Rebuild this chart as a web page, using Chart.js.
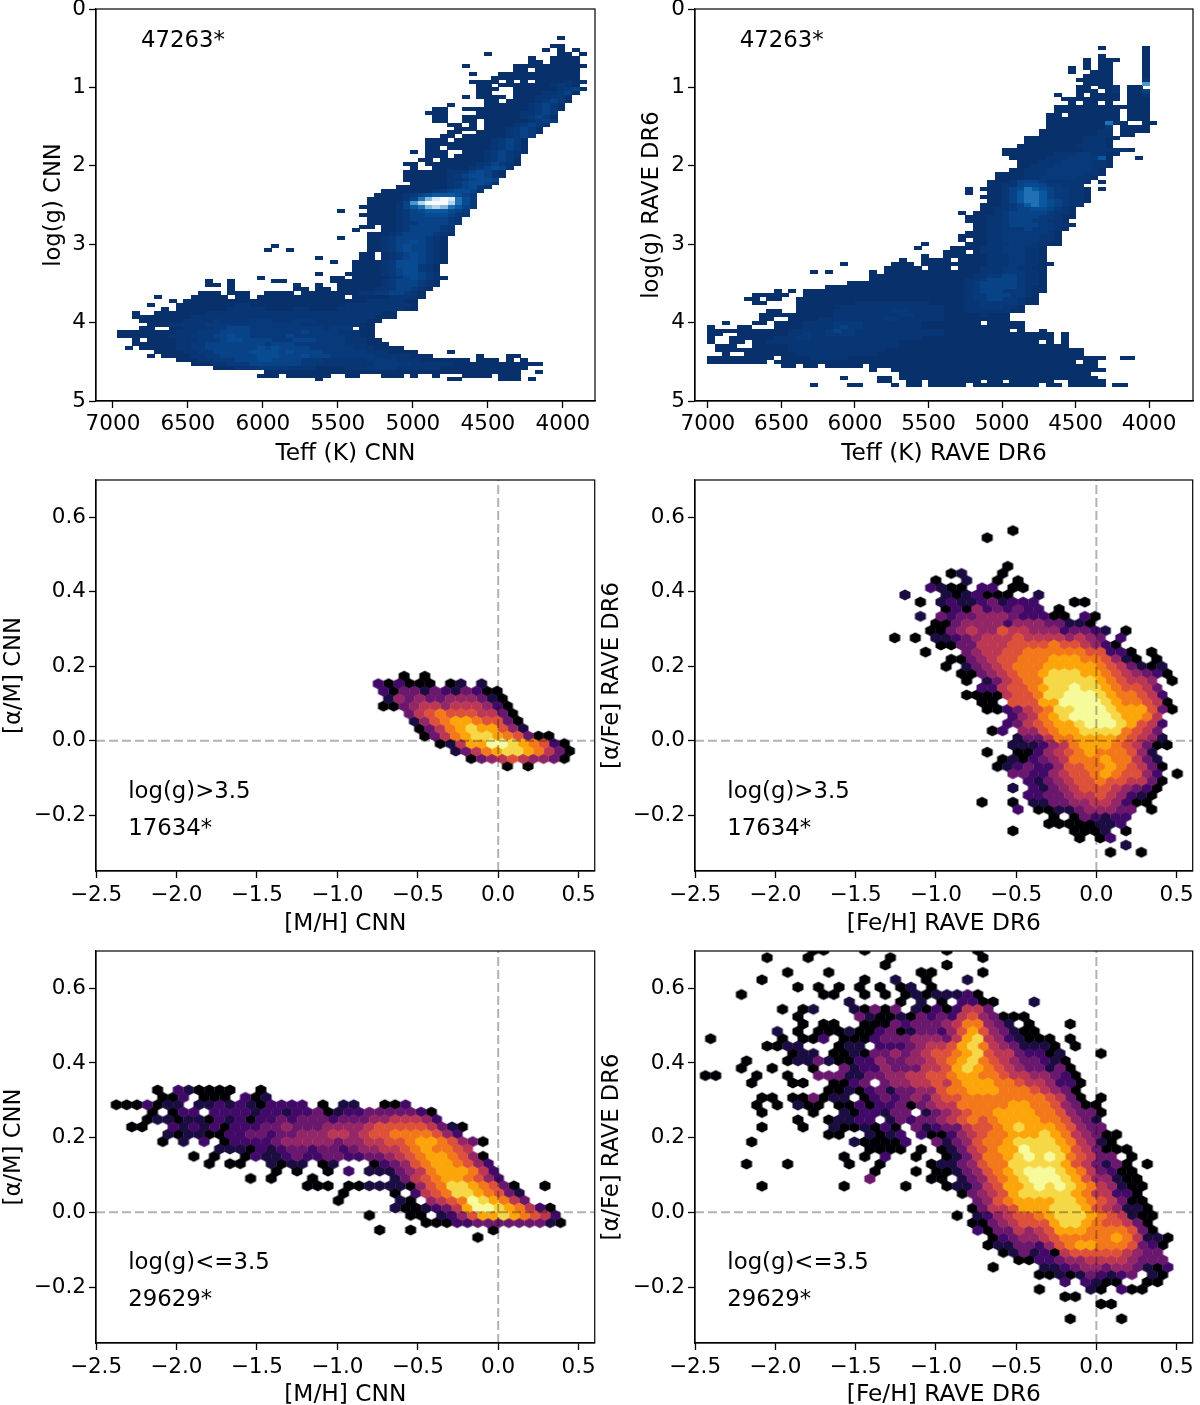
<!DOCTYPE html>
<html><head><meta charset="utf-8">
<style>html,body{margin:0;padding:0;background:#fff;overflow:hidden}canvas{position:absolute;display:block}</style>
<script src="https://cdn.jsdelivr.net/npm/chart.js@4"></script>
</head><body>
<canvas id="c0" style="left:0;top:0" width="602" height="470"></canvas>
<canvas id="c1" style="left:600px;top:0" width="600" height="470"></canvas>
<canvas id="c2" style="left:0;top:470px" width="608" height="470"></canvas>
<canvas id="c3" style="left:600px;top:470px" width="606" height="470"></canvas>
<canvas id="c4" style="left:0;top:940px" width="608" height="465"></canvas>
<canvas id="c5" style="left:600px;top:940px" width="606" height="465"></canvas>
<script>
const teffTicks=[7000,6500,6000,5500,5000,4500,4000];
const loggTicks=[0,1,2,3,4,5];
const metalTicks=[-2.5,-2,-1.5,-1,-0.5,0,0.5];
const metalLabels=["\u22122.5","\u22122.0","\u22121.5","\u22121.0","\u22120.5","0.0","0.5"];
const alphaTicks=[-0.2,0,0.2,0.4,0.6];
const alphaLabels=["\u22120.2","0.0","0.2","0.4","0.6"];
const blues=["#08306b","#083573","#083a7b","#084387","#084b93","#0a58a2","#2070b4","#4a98c9","#82badb","#b5d4e9","#dbe9f6","#f7fbff"];
const inferno=["#000004","#1b0c41","#420a68","#6a176e","#932667","#bc3754","#dd513a","#f37819","#fca50a","#f6d746","#f6fa9a"];

// [logg row, first Teff bin, density codes per bin; blank = no stars]
const cnnGiantRows=[
[0,60,"0"],[2,59,"00"],[3,58,"0 0 0"],[4,50,"0         00 0"],[5,56,"0  0000"],[6,56,"00 0000"],[7,47,"0      0000000000"],[8,54,"00 000000"],[9,48,"0   00000000000"],[10,51,"000000000000"],
[11,48,"0000 0 0 0000101"],[12,49,"00 00000001210"],[13,49,"000  0000001230"],[14,49,"00   000011230"],[15,47,"0 0000 00011220"],[16,50,"00 000012320"],[17,45,"0    00000012320"],[18,43,"00  00000000012320"],[19,42,"000    00000011232"],[20,43,"00  0000000012320"],
[21,43,"00  00 0000001232"],[22,45,"00 0 000012321"],[23,46,"000 00012320"],[24,45,"00  000012320"],[25,44,"00 0000001232"],[26,42,"000 0000012320"],[27,42,"00000000012320"],[28,42,"00 00000012320"],[29,40,"0 000  000123210"],[30,42,"000 000012321"],
[31,41,"00 00000012320"],[32,39,"00 0000000123210"],[33,40,"0  00000123431"],[34,39,"00000011234310"],[35,39,"00000012344310"],[36,39,"0000001123443"],[37,40,"000001234431"],[38,38,"0000000123421"],[39,36,"00000001234431"],[40,35,"00001234555432"],
[41,34,"000001368aba642"],[42,34,"00001379bbb9642"],[43,33,"0000013568986532"],[44,34,"00001234555432"],[44,30,"0"],[45,33,"000001233444321"],[46,34,"0000123333321"],[47,34,"0000122333321"],[48,33,"00 0012333321"],[49,32,"0   0012333321"],
[50,34,"000123333210"],[51,34,"00123333210"],[51,30,"0"],[52,34,"00123343210"],[53,34,"00123433210"],[53,21,"0"],[54,34,"00123433210"],[54,20,"0  0"],[55,33,"00 012343210"],[56,33,"00 012343210"],[56,27,"0"],[57,32,"0000124443210"],[57,29,"0"],[58,32,"000012444210"],[59,32,"000012344210"],
[60,27,"0   0000012344321"],[61,19,"0         00 0000012343210"],[62,12,"0  0     00"],[62,29,"000000012333210"],[63,12,"00 0"],[63,24,"0  0"],[63,30,"00000012333210"],[64,15,"0"],[64,24,"00 00"],[64,30,"0000011233210"],[65,11,"000 000  0000"],[65,25,"00000000112233210"],
[66,5,"0"],[66,10,"00000 00 000000000000 0000011110"],[67,7,"0"],[67,9,"00000000000000000000000001111100"],[68,4,"0"],[68,8,"000000001100000000000001111111110"],[69,6,"0"],[69,8,"000000011111000011000011111111100"],
[70,2,"0"],[70,5,"000000011111111111111111111111100"],[71,2,"000"],[71,5,"000001111111111111111111111111000"],[72,3,"000000111121111222111222111111100"],[73,4,"0001111122222222222221111111100"],[74,3,"00  0011112233322222222221222 00"],
[75,0,"00000000111222333322222223222211100"],[76,0,"00000001112223343322222322222221100"],[77,2,"0 00001112223443333222333222211100"],[78,2,"00000011223333333323332222222111000"],[79,1,"0 00"],[79,5,"0001122333333343433332222221110000"],
[80,5,"000011223333344443433332222221110000"],[80,45,"0"],[81,4,"0"],[81,6,"0000112233333444333433322222211111000"],[81,49,"0"],[81,53,"00"],[82,8,"0001122233344333322211111122221110000000"],[82,49,"000 0 0"],
[83,10,"000112223333333221111111122222111111000000000000"],[84,13,"0001112222111100001112222111111000000000000"],[85,20,"00000000000000000000000000000000000"],[85,57,"0"],[86,19,"000 000000  00   000 0  0   0000 000"],[87,27,"0"],[87,45,"00     000 0"]
];
const raveGiantRows=[
[0,53,"0     0"],[1,59,"0"],[2,53,"0     0"],[3,51,"0 000   0"],[4,51,"0 00    0"],[5,49,"0 0 00    0"],[6,49,"0  000    0"],[7,51,"0000    0"],[8,50,"00000    1"],[9,51,"0000    7"],
[10,50,"00 001 00"],[11,50,"000 01 003"],[12,47,"0  0 0000 001"],[13,48,"00000000 000"],[14,49,"0 00 0  000"],[15,47,"0000000000000"],[16,47,"000000000 000"],[17,46,"00 0000000 000"],[18,46,"0000000000 000"],[19,46,"00000000600  00"],
[20,46,"000000002 0000"],[21,45,"0000000011 0000"],[22,45,"0000000011 00"],[23,43,"0000000011100"],[24,43,"000000001110"],[25,42,"0000000011110"],[26,40,"000000000001111110"],[27,40,"0000000111221100"],[28,41,"00000111222250   0"],[29,42,"0001112222110"],
[30,42,"0011122222110"],[31,41,"0011122222210"],[32,39,"000011122222110"],[33,39,"00001122222110"],[34,38,"00013332111110 0"],[35,38,"0011344322111"],[36,35,"0 000134654322110 0"],[37,35,"0  00135665322110"],[38,37,"000135665322110"],[39,38,"00135665432110"],
[40,37,"00012356543211"],[41,37,"0011233443210"],[42,34,"0 00012333332110"],[43,35,"000112333322100"],[44,35,"00011233322110"],[45,36,"00112333322110"],[46,36,"0011222322210"],[47,35,"0001122222210"],[48,34,"00001122222110"],[49,34,"0 001122222110"],
[50,35,"0001112221100"],[50,29,"0"],[51,33,"0000111222110"],[51,28,"0"],[52,32,"000 0111222110"],[53,32,"00000011122110"],[53,29,"0"],[54,32,"0 000011122110"],[54,26,"0  000"],[55,32,"000000111221100"],[55,18,"0      000 000"],
[56,32,"0 000111221100"],[56,24,"00000 000"],[57,14,"0 0     0 00000000"],[57,32,"00000111222110"],[58,22,"0000000000"],[58,32,"00001122332110"],[59,22,"0000000000"],[59,32,"00011233332110"],[60,19,"0000000000000"],[60,32,"00012333332110"],[61,16,"0000000000000000"],[61,32,"00012333332100"],
[62,9,"0 0 0000000000000000000"],[62,32,"00012333222100"],[63,6,"00000  0000000000000000000"],[63,32,"0001223332210"],[64,5,"00 00  00000000000000000000"],[64,32,"0001223322100"],[65,6,"00    00000000111111111100"],[65,32,"0001122222100"],
[66,12,"00000011111111111111"],[66,32,"00011222110"],[67,8,"00  00000111111112211111"],[67,32,"00011111100"],[68,7,"0000000000111111111221111"],[68,32,"000001000"],[69,7,"00  000011111111122111111"],[69,32,"000000000"],
[70,2,"0   00 00001111222211111111000"],[70,32,"00000 00000"],[71,0,"0   00   00001111232211111111000"],[71,32,"00000000000"],[72,0,"00000000000111112322111111111111"],[72,32,"000000000 0  0"],[73,0,"00  0000000112112222111111111111"],[73,32,"000000000000000 0"],
[74,0,"0  00000011122111111111111111000"],[74,32,"000000000000000 0"],[75,0,"0  00 00111111111111111111000000"],[75,32,"0000000000000 0 0"],[76,1,"000  00000111111111111111000000"],[76,32,"00000000000000000"],[77,1,"0000000000111111111111100000000"],[77,32,"0000000000000000000"],
[78,2,"0  000000011111111111000000000"],[78,32,"0000000000000000000"],[79,0,"000000000 0000111110000000000000"],[79,32,"0000000000000000000000  00"],[80,0,"00000000 00000000000000000000000"],[80,32,"000000000000000000 00"],[81,10,"00 00 00000 0000000000"],[81,32,"000000000000000000000"],
[82,22,"0  0000000"],[82,32,"0000000000000000000000"],[83,26,"000000"],[83,32,"00000000000000000000"],[84,18,"0    00 000000"],[84,32,"000000000000000000000"],[85,23,"00  00 00"],[85,32,"00000 00 000000  00000"],[86,14,"0    00    0 00 00"],[86,32,"000 000000000 00 00000 00"]
];
// [hexagon row, first hexagon column, density codes; blank = empty hexagon]
const dwarfCnnRows=[
[0,0,"   0 0"],[1,0,"202000 01 1"],[2,0," 203313213200"],[3,0," 143433444310"],[4,0," 0034554555420"],[5,0,"   35676665530"],[6,0,"    14678876630"],[7,0,"    03578988641"],[8,0,"     0357899876300"],[9,0,"      01588aa987620"],[10,0,"        135789987530"],[11,0,"         0345654430"],[12,0,"             0 0"]
];
const dwarfRaveRows=[
[0,12,"0"],[1,9,"0"],[5,11,"0"],[6,6,"01   0"],[7,4,"0  1  0 0"],[8,4,"2100 22 00"],[9,1,"1   1012000  1"],[10,3,"0 1211231222   00"],[11,5,"0204232322 0"],[12,3,"1 3233444322200 20"],
[13,4,"0034444244433110"],[14,4,"003454465544423321 0"],[15,0,"0 0 11234555655554543 2"],[16,5,"003355566667665420"],[17,3,"0   34556677777766220 0"],[18,6,"0034566777888776410 0"],[19,5,"0 13456777888887653101"],[20,7,"003456778999887654320"],[21,7,"0 13567799999876554 0"],[22,9,"225667899a99876653"],
[23,7,"0000566799aaa9877652"],[24,9,"00 66688aaaa9877650"],[25,9,"002356799aaa9888630"],[26,12,"245789aaaa98875"],[27,11,"23567889aaa98652"],[28,10,"02 44678899997653"],[29,12,"133577888876541"],[30,12,"1112457888765300"],[31,9,"0  00245678777641"],[32,11,"0102345777877531"],
[33,10,"01232246677876530"],[34,12,"332245667876642 0"],[35,13,"21345667665530"],[36,12,"1 2134566654320"],[37,13,"2233455654210"],[38,9,"0  0 113344554200"],[39,12,"2 0011344433 0"],[40,16,"0 032122"],[41,15,"00000112"],[42,12,"0     0001 0"],[43,18,"0 02"],[44,23,"1"],[45,21,"0  0"]
];
const giantCnnRows=[
[0,0,"     0 210000  0"],[1,0,"     002 000 201"],[2,0," 0002011 11212102222 0 11  002"],[3,0,"    0 022 2222122122301223333320"],[4,0,"    01101102120223233323334455542"],[5,0,"  00  21212022233433344445666665310"],
[6,0,"      10110022332334445545667777642"],[7,0,"     0 1 2 0222234444434455667887643"+"0"],[8,0,"           1110212332332344556787765"],[9,0,"        0 0  021123223322334567887640"],[10,0,"          0 00  1011 01   023467887642"],[11,0,"                0 0  0 2 1113457888752"],
[12,0,"              0 0   0       13567887642"],[13,0,"                   000 00111104679987630  0"],[14,0,"                       0    0 25679987631"],[15,0,"                      0     10 4567a98753"],[16,0,"                            10012358aa987520"],[17,0,"                         0   00 124688987652"],
[18,0,"                               00022333333310"],[19,0,"                          0  0       0"],[20,0,"                                    0"]
];
const giantRaveRows=[
[-1,10,"00   0       0  0"],[0,6,"0   0       0        0"],[1,17,"0     0"],[2,8,"0   0        00    0"],[3,5,"0         0  1  0   1"],[4,9,"0 0 0 0 0 01 0"],[5,3,"0"],[5,11,"00  0 0 01011120"],[6,14,"1    0 1 0 2200   1"],[7,7,"0 01   10303 10202553"],
[8,9,"0     31001032325643000"],[9,9,"0 00  000323334577431 0   0"],[10,7,"1 0 0001002301332468643100"],[11,0,"0"],[11,7,"0 002 000233344435895421000 0"],[12,6,"0011   011 222345568975431110 0"],[13,8,"011 00103343456678965532201   0"],[14,4,"0"],[14,8,"0113100224334456789765433210"],
[15,3,"0  0   0"],[15,13,"31224333556898765433130"],[16,0,"00   0  0  33311334455667887765544320"],[17,4,"0   00  0023 34455657888776554220"],[18,12,"0010231334467788877765430"],[19,5,"00 003011 0232343566777777776530 0"],[20,5,"0 0 100 00202230345577777887764300"],
[21,5,"0    0  1"],[21,14,"022133 134567788887764330"],[22,9,"0  01122 132334567678888776431"],[23,5,"0   0  1001020 3123356678988876433"],[24,12,"00  1012 20024567788898754300"],[25,4,"0"],[25,14,"100002  313467789999875410"],[26,16,"0000 0 01356788a9998653000"],[27,13,"0 0 2  0  01357789a9a976533 0"],
[28,4,"0   0"],[28,14,"0  0    01134677999998653130 0"],[29,16,"0   0 001346789aaa98753200"],[30,16,"3     00 1346789aaa98644100"],[31,5,"0       0     0   011356889a9a98754100"],[32,25,"034568999998755220"],[33,26,"34678888998765300"],[34,26,"035568889998654110"],[35,24,"0 124566789998765100"],
[36,26,"003456668998766530"],[37,26,"203354568887777630"],[38,28,"023445677777875110"],[39,27,"011332467887776320"],[40,29,"0131205666665433"],[41,30,"002234455554333"],[42,28,"0    1123443443102"],[43,32,"0010132123 10"],[44,35,"2 2100  00"],[45,32,"0    10 200"],[46,35,"00"],[47,38,"00"],[49,35,"0    0"]
];

function sprite(w,h,draw){const c=document.createElement('canvas');c.width=w;c.height=h;draw(c.getContext('2d'));return c;}
function hexSprite(color){const W=11,H=10.9;return sprite(14,14,g=>{g.fillStyle=color;g.beginPath();
  g.moveTo(7,7-H/2);g.lineTo(7+W/2,7-H/4);g.lineTo(7+W/2,7+H/4);g.lineTo(7,7+H/2);g.lineTo(7-W/2,7+H/4);g.lineTo(7-W/2,7-H/4);g.closePath();g.fill();});}
function cellSprite(color){return sprite(8,4,g=>{g.fillStyle=color;g.fillRect(0,0,8,4);});}
function frame(){return {id:'frame',afterDraw(ch){const a=ch.chartArea,g=ch.ctx;g.save();g.strokeStyle='#000';g.lineWidth=1.2;g.strokeRect(a.left,a.top,a.right-a.left,a.bottom-a.top);
  const n=ch.options.plugins.notes||[];g.fillStyle='#000';g.font='22.8px "DejaVu Sans"';g.textBaseline='middle';
  n.forEach(t=>g.fillText(t[0],a.left+t[1]*(a.right-a.left),a.top+t[2]*(a.bottom-a.top)));g.restore();}};}
function decode(rows,pos,palette){const out=palette.map(()=>[]);
  rows.forEach(r=>{[...r[2]].forEach((ch,i)=>{if(ch===' ')return;const lv=parseInt(ch,16);out[lv].push(pos(r[0],r[1]+i));});});return out;}

function axes(o){const tick={font:{family:'DejaVu Sans',size:21.5,lineHeight:0.5},color:'#000',maxRotation:0,autoSkip:false};
  const grid={drawOnChartArea:false,tickLength:7,tickWidth:1.3,tickColor:'#000'};const border={color:'#000',width:1.2};
  const ttl=(t,pad,s)=>({display:true,text:t,color:'#000',font:{family:'DejaVu Sans',size:s,lineHeight:1},padding:pad});
  return {x:{type:'linear',min:o.x[0],max:o.x[1],reverse:!!o.xrev,grid,border,title:ttl(o.xt,{top:0,bottom:o.xp},23.3),
      afterBuildTicks:s=>{s.ticks=o.xticks.map(v=>({value:v}));},ticks:{...tick,padding:o.xtp,callback:v=>o.xlab?o.xlab[o.xticks.indexOf(v)]:String(v)},afterFit:s=>{s.height=o.xh;}},
    y:{type:'linear',min:o.y[0],max:o.y[1],reverse:!!o.yrev,grid,border,title:ttl(o.yt,{top:o.yp,bottom:0},22.7),
      afterBuildTicks:s=>{s.ticks=o.yticks.map(v=>({value:v}));},ticks:{...tick,padding:3,callback:v=>o.ylab?o.ylab[o.yticks.indexOf(v)]:String(v)},afterFit:s=>{s.width=o.yw;}}};}

function panel(id,o,sets,notes){new Chart(document.getElementById(id),{type:'scatter',data:{datasets:sets},plugins:[frame()],
  options:{responsive:false,animation:false,events:[],layout:{padding:o.pad},scales:axes(o),plugins:{legend:{display:false},tooltip:{enabled:false},notes}}});}
function markSets(rows,pos,palette,make,radius){const byLevel=decode(rows,pos,palette);
  return byLevel.map((pts,i)=>({data:pts,pointStyle:make(palette[i]),pointRadius:radius,clip:0,showLine:false})).filter(d=>d.data.length).reverse();}
function dashSets(){return [
  {data:[{x:0,y:-0.35},{x:0,y:0.7}],showLine:true,pointRadius:0,borderColor:'rgba(0,0,0,0.3)',borderWidth:2,borderDash:[9,4],clip:0},
  {data:[{x:-2.5,y:0},{x:0.6,y:0}],showLine:true,pointRadius:0,borderColor:'rgba(0,0,0,0.3)',borderWidth:2,borderDash:[9,4],clip:0}];}

const hist=(id,rows,pos,xr,xt,yt,yp,yw,pad)=>panel(id,{x:xr,xrev:true,y:[0,5],yrev:true,xticks:teffTicks,yticks:loggTicks,xt,yt,xp:4,xtp:11,yp,xh:69,yw,pad},
  markSets(rows,pos,blues,cellSprite,5),[["47263*",0.09,0.0815]]);
hist('c0',cnnGiantRows,(j,c)=>({x:6968.7-48.87*(c+0.5),y:0.375+0.05*j}),[3786,7113],'Teff (K) CNN','log(g) CNN',42.5,96,{top:9,right:7,left:0,bottom:0});
hist('c1',raveGiantRows,(j,c)=>({x:7002-50.1*(c+0.5),y:0.501+0.05*j}),[3701,7088],'Teff (K) RAVE DR6','log(g) RAVE DR6',40.5,95,{top:9,right:7,left:0,bottom:0});

function hex(id,rows,x0,y0,dx,dy,xt,yt,yp,yw,top,right,xh,xp,notes){
  const pos=(k,c)=>({x:x0+dx*(c+(Math.abs(k)%2?0.5:0)),y:y0-dy*k});
  panel(id,{x:[-2.5,0.6],y:[-0.35,0.7],xticks:metalTicks,xlab:metalLabels,yticks:alphaTicks,ylab:alphaLabels,xt,yt,xp,xtp:12,yp,xh,yw,pad:{top,right,left:0,bottom:0}},
    [...dashSets(),...markSets(rows,pos,inferno,hexSprite,7)],notes);}
hex('c2',dwarfCnnRows,-0.7775,0.1731,0.0642,0.0201,'[M/H] CNN','[\u03b1/M] CNN',3,96,10,7,69,4,[["log(g)>3.5",0.0645,0.798],["17634*",0.0645,0.892]]);
hex('c3',dwarfRaveRows,-1.288,0.5642,0.064,0.0192,'[Fe/H] RAVE DR6','[\u03b1/Fe] RAVE DR6',1,95,10,7,69,4,[["log(g)>3.5",0.065,0.798],["17634*",0.065,0.892]]);
hex('c4',giantCnnRows,-2.438,0.3276,0.0642,0.01974,'[M/H] CNN','[\u03b1/M] CNN',3,96,11,7,62,-2,[["log(g)<=3.5",0.0645,0.795],["29629*",0.0645,0.89]]);
hex('c5',giantRaveRows,-2.435,0.6821,0.064,0.01974,'[Fe/H] RAVE DR6','[\u03b1/Fe] RAVE DR6',1,95,11,7,62,-2,[["log(g)<=3.5",0.065,0.795],["29629*",0.065,0.89]]);
</script>
</body></html>
